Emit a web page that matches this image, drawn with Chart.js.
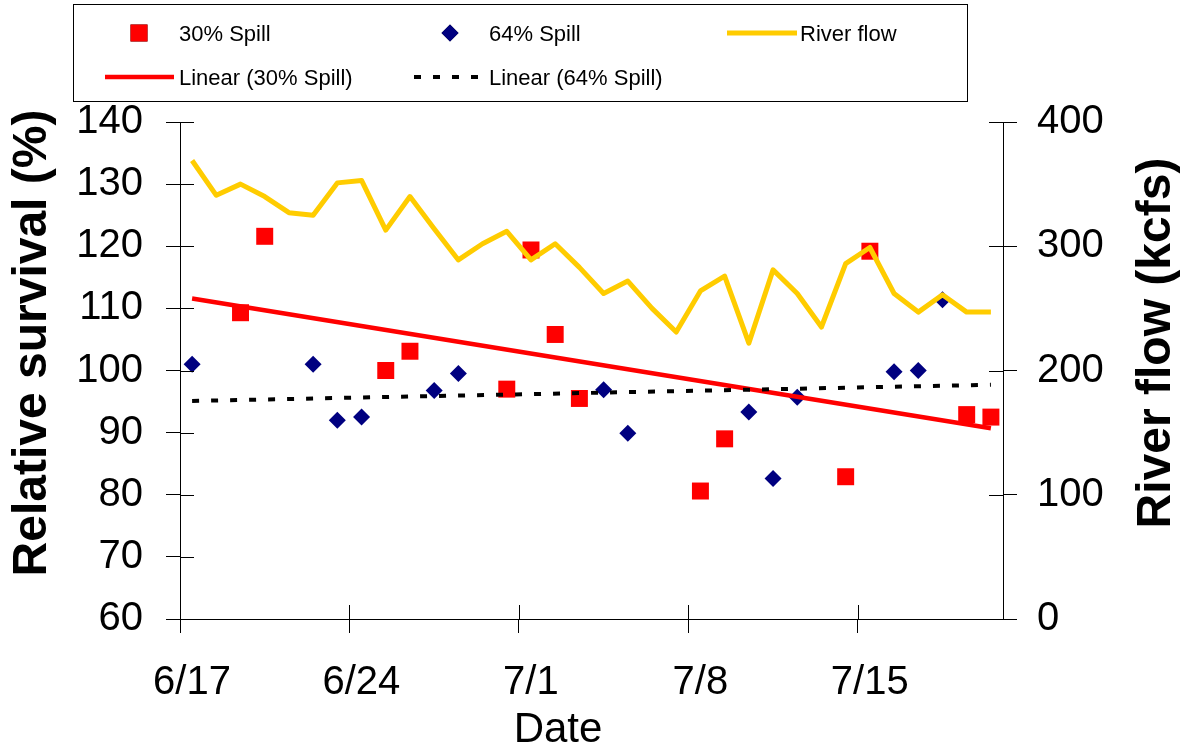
<!DOCTYPE html>
<html>
<head>
<meta charset="utf-8">
<title>Relative survival and river flow</title>
<script src="https://cdn.jsdelivr.net/npm/chart.js@4.4.0/dist/chart.umd.min.js"></script>
<style>
  html, body { margin: 0; padding: 0; background: #fff; }
  #wrap { width: 1180px; height: 751px; }
</style>
</head>
<body>
<div id="wrap"><canvas id="chart" width="1180" height="751"></canvas></div>
<script>
// one entry per day, 6/17 .. 7/20
var days = ['6/17', '6/18', '6/19', '6/20', '6/21', '6/22', '6/23', '6/24', '6/25', '6/26',
  '6/27', '6/28', '6/29', '6/30', '7/1', '7/2', '7/3', '7/4', '7/5', '7/6',
  '7/7', '7/8', '7/9', '7/10', '7/11', '7/12', '7/13', '7/14', '7/15', '7/16',
  '7/17', '7/18', '7/19', '7/20'];
// river flow, kcfs (right axis)
var riverFlow = [369, 341, 350, 340, 327, 325, 351, 353, 313, 340,
  314, 289, 302, 312, 289, 302, 283, 262, 272, 250,
  231, 264, 276, 222, 281, 262, 235, 286, 299, 262,
  247, 261, 247, 247];
// relative survival (%), null = no release that day
var spill30 = [null, null, 109.3, 121.6, null, null, null, null, 100.0, 103.1,
  null, null, null, 97.0, 119.4, 105.8, 95.5, null, null, null,
  null, 80.6, 89.0, null, null, null, null, 82.9, 119.2, null,
  null, null, 92.9, 92.5];
var spill64 = [101.0, null, null, null, null, 101.0, 92.0, 92.5, null, null,
  96.8, 99.5, null, null, null, null, null, 96.9, 89.9, null,
  null, null, null, 93.3, 82.6, 95.7, null, null, null, 99.8,
  100.0, 111.4, null, null];
// linear trend lines, value at first and last day
var trend30 = [111.6, 90.7];
var trend64 = [95.1, 97.7];
var xTickLabels = ['6/17', '6/24', '7/1', '7/8', '7/15'];

var FONT = "'Liberation Sans', Arial, sans-serif";
Chart.defaults.font.family = FONT;
Chart.defaults.color = '#000';

function toPoints(values) {
  var pts = [];
  for (var i = 0; i < values.length; i++) {
    if (values[i] !== null) pts.push({ x: i + 0.5, y: values[i] });
  }
  return pts;
}
function trendPoints(ends) {
  return [{ x: 0.5, y: ends[0] }, { x: days.length - 0.5, y: ends[1] }];
}

function drawSample(ctx, ds, x1, x2, y) {
  var cx = (x1 + x2) / 2;
  if (ds.showLine) {
    ctx.save();
    ctx.strokeStyle = ds.borderColor;
    ctx.lineWidth = ds.borderWidth;
    ctx.setLineDash(ds.borderDash || []);
    ctx.beginPath();
    ctx.moveTo(x1, y);
    ctx.lineTo(x2, y);
    ctx.stroke();
    ctx.restore();
  } else {
    Chart.helpers.drawPoint(ctx, {
      pointStyle: ds.pointStyle,
      radius: ds.pointRadius,
      borderWidth: 0,
      rotation: 0
    }, cx, y);
    ctx.fillStyle = ds.backgroundColor;
    ctx.fill();
  }
}

var extras = {
  id: 'extras',
  afterDraw: function(chart) {
    var ctx = chart.ctx;
    var area = chart.chartArea;
    var sx = chart.scales.x, sy = chart.scales.y, sy1 = chart.scales.y1;
    ctx.save();

    // inner halves of the tick marks
    ctx.strokeStyle = '#000';
    ctx.lineWidth = 1;
    ctx.beginPath();
    sy.ticks.forEach(function(t) {
      var p = Math.round(sy.getPixelForValue(t.value)) + 0.5;
      ctx.moveTo(area.left, p); ctx.lineTo(area.left + 14, p);
    });
    sy1.ticks.forEach(function(t) {
      var p = Math.round(sy1.getPixelForValue(t.value)) + 0.5;
      ctx.moveTo(area.right - 14, p); ctx.lineTo(area.right, p);
    });
    sx.ticks.forEach(function(t) {
      var p = Math.round(sx.getPixelForValue(t.value)) + 0.5;
      ctx.moveTo(p, area.bottom - 14); ctx.lineTo(p, area.bottom);
    });
    ctx.stroke();

    // axis titles
    ctx.fillStyle = '#000';
    ctx.textBaseline = 'alphabetic';
    ctx.textAlign = 'center';
    ctx.font = '42px ' + FONT;
    ctx.fillText('Date', 558, 742);
    ctx.font = 'bold 48px ' + FONT;
    ctx.save();
    ctx.translate(46, 343);
    ctx.rotate(-Math.PI / 2);
    ctx.fillText('Relative survival (%)', 0, 0);
    ctx.restore();
    ctx.save();
    ctx.translate(1170, 343);
    ctx.rotate(-Math.PI / 2);
    ctx.fillText('River flow (kcfs)', 0, 0);
    ctx.restore();

    // legend box
    ctx.strokeStyle = '#000';
    ctx.lineWidth = 1;
    ctx.strokeRect(73.5, 4.5, 894, 97);
    var ds = chart.data.datasets;
    var items = [
      { d: ds[0], x1: 130, x2: 148, tx: 179, y: 33 },
      { d: ds[1], x1: 441, x2: 459, tx: 489, y: 33 },
      { d: ds[2], x1: 727, x2: 797, tx: 800, y: 33 },
      { d: ds[3], x1: 105, x2: 174, tx: 179, y: 77 },
      { d: ds[4], x1: 414, x2: 484, tx: 489, y: 77 }
    ];
    ctx.font = '22px ' + FONT;
    ctx.textAlign = 'left';
    items.forEach(function(it) {
      drawSample(ctx, it.d, it.x1, it.x2, it.y);
      ctx.fillStyle = '#000';
      ctx.fillText(it.d.label, it.tx, it.y + 8);
    });
    ctx.restore();
  }
};

var ctx = document.getElementById('chart').getContext('2d');
var chart = new Chart(ctx, {
  type: 'scatter',
  data: {
    datasets: [{
      label: '30% Spill',
      data: toPoints(spill30),
      yAxisID: 'y',
      pointStyle: 'rect',
      pointRadius: 12,
      pointBorderWidth: 0,
      backgroundColor: '#ff0000',
      borderColor: '#ff0000',
      order: 5
    }, {
      label: '64% Spill',
      data: toPoints(spill64),
      yAxisID: 'y',
      pointStyle: 'rectRot',
      pointRadius: 8.5,
      pointBorderWidth: 0,
      backgroundColor: '#000080',
      borderColor: '#000080',
      order: 4
    }, {
      label: 'River flow',
      data: toPoints(riverFlow),
      yAxisID: 'y1',
      showLine: true,
      pointRadius: 0,
      borderColor: '#ffcc00',
      backgroundColor: '#ffcc00',
      borderWidth: 5,
      borderJoinStyle: 'round',
      tension: 0,
      order: 3
    }, {
      label: 'Linear (30% Spill)',
      data: trendPoints(trend30),
      yAxisID: 'y',
      showLine: true,
      pointRadius: 0,
      borderColor: '#ff0000',
      backgroundColor: '#ff0000',
      borderWidth: 4.5,
      order: 2
    }, {
      label: 'Linear (64% Spill)',
      data: trendPoints(trend64),
      yAxisID: 'y',
      showLine: true,
      pointRadius: 0,
      borderColor: '#000000',
      backgroundColor: '#000000',
      borderWidth: 4,
      borderDash: [7, 12],
      order: 1
    }]
  },
  options: {
    responsive: false,
    animation: false,
    layout: { padding: { top: 122, left: 0, right: 0, bottom: 0 } },
    plugins: { legend: { display: false }, tooltip: { enabled: false } },
    scales: {
      x: {
        type: 'linear',
        min: 0,
        max: days.length,
        ticks: {
          stepSize: 7,
          includeBounds: false,
          autoSkip: false,
          maxRotation: 0,
          labelOffset: 12,
          padding: 26,
          font: { size: 40 },
          callback: function(v) { return xTickLabels[v / 7]; }
        },
        grid: { drawOnChartArea: false, color: '#000', tickLength: 14 },
        border: { color: '#000', width: 1 },
        afterFit: function(s) { s.height = 132; }
      },
      y: {
        position: 'left',
        min: 60,
        max: 140,
        ticks: { stepSize: 10, padding: 23, font: { size: 40 } },
        grid: { drawOnChartArea: false, color: '#000', tickLength: 14 },
        border: { color: '#000', width: 1 },
        afterFit: function(s) { s.width = 180; }
      },
      y1: {
        position: 'right',
        min: 0,
        max: 400,
        ticks: { stepSize: 100, padding: 20, font: { size: 40 } },
        grid: { drawOnChartArea: false, color: '#000', tickLength: 14 },
        border: { color: '#000', width: 1 },
        afterFit: function(s) { s.width = 177; }
      }
    }
  },
  plugins: [extras]
});
</script>
</body>
</html>
